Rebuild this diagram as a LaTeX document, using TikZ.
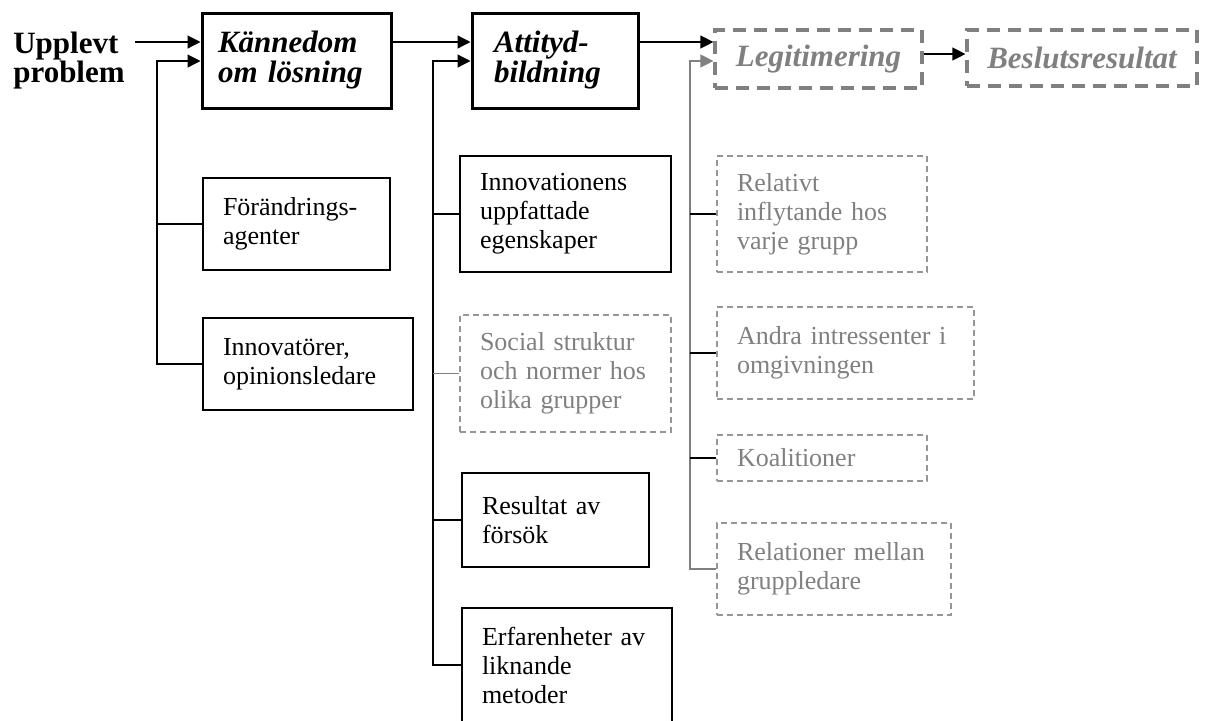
\documentclass[tikz,border=0pt]{standalone}
\usepackage{fontspec}
\setmainfont{Liberation Serif}
\definecolor{fadegray}{RGB}{128,128,128}
\definecolor{dashgray}{RGB}{150,150,150}
\usetikzlibrary{arrows.meta,positioning,calc}

\tikzset{
  stagebox/.style={draw, line width=1.5pt, align=left, inner xsep=8pt,
    font=\fontsize{15.5}{15}\selectfont\bfseries\itshape},
  laterbox/.style={draw=fadegray, text=fadegray, line width=1.6pt,
    dash pattern=on 6.5pt off 4pt, align=center,
    font=\fontsize{15.5}{15}\selectfont\bfseries\itshape},
  factor/.style={draw, line width=0.7pt, align=left, inner xsep=10pt,
    font=\fontsize{13}{14.5}\selectfont},
  weakfactor/.style={factor, draw=dashgray, text=fadegray, dash pattern=on 3pt off 2pt},
  link/.style={line width=0.6pt},
  weaklink/.style={link, draw=fadegray},
  arr/.style={link, -{Triangle[length=6.5pt,width=6.5pt]}},
  weakarr/.style={weaklink, -{Triangle[length=6.5pt,width=6.5pt]}}
}

\begin{document}
\begin{tikzpicture}[x=0.5pt,y=-0.5pt]
  \useasboundingbox (0,0) rectangle (1213,720);

  % top row
  \node[align=left, inner xsep=5pt, font=\fontsize{15.5}{14.5}\selectfont\bfseries] (prob) at (69,60.5) {Upplevt\\problem};
  \node[stagebox, text width=78.5pt, minimum height=47.5pt] (kan) at (296.5,60.5) {Kännedom\\om lösning};
  \node[stagebox, inner xsep=11pt, text width=61pt, minimum height=47.5pt] (att) at (555,60.5) {Attityd-\\bildning};
  \node[laterbox, minimum width=103.5pt, minimum height=29pt] (leg) at (818.5,59) {Legitimering};
  \node[laterbox, minimum width=115pt, minimum height=28pt] (bes) at (1082,58) {Beslutsresultat};

  % column under Kännedom
  \node[factor, text width=73.5pt, minimum height=46pt] (fa) at (296.5,224) {Förändrings-\\agenter};
  \node[factor, text width=85pt, minimum height=46pt] (ino) at (308,364) {Innovatörer,\\opinionsledare};

  % column under Attityd
  \node[factor, text width=85.5pt, minimum height=58pt] (ie) at (565.5,214) {Innovationens\\uppfattade\\egenskaper};
  \node[weakfactor, text width=85.5pt, minimum height=58.5pt] (ss) at (565.5,373.5) {Social struktur\\och normer hos\\olika grupper};
  \node[factor, text width=73.5pt, minimum height=47pt] (rf) at (555.5,520) {Resultat av\\försök};
  \node[factor, text width=85pt, minimum height=57pt] (el) at (567,665) {Erfarenheter av\\liknande\\metoder};

  % column under Legitimering
  \node[weakfactor, text width=85pt, minimum height=58pt] (ri) at (822,214) {Relativt\\inflytande hos\\varje grupp};
  \node[weakfactor, text width=108.5pt, minimum height=46pt] (ai) at (845.5,353) {Andra intressenter i\\omgivningen};
  \node[weakfactor, text width=85pt, minimum height=23pt] (ko) at (822,458) {Koalitioner};
  \node[weakfactor, text width=97pt, minimum height=46pt] (rm) at (834,569) {Relationer mellan\\gruppledare};

  % bus lines
  \coordinate (busA) at (157,61);
  \coordinate (busB) at (433,61);
  \coordinate (busC) at (690,61);

  % main flow
  \draw[arr] (prob.east |- 0,42) -- ([yshift=9.25pt]kan.west);
  \draw[arr] ([yshift=9.25pt]kan.east) -- ([yshift=9.25pt]att.west);
  \draw[arr] ([yshift=9.25pt]att.east) -- ([yshift=9.25pt]att.east -| leg.west);
  \draw[arr] ([yshift=2.5pt]leg.east) -- ([yshift=2.5pt]leg.east -| bes.west);

  % feeders
  \draw[arr] (ino.west) -| (busA) -- (busA -| kan.west);
  \draw[link] (fa.west) -- (fa.west -| busA);

  \draw[arr] (el.west) -| (busB) -- (busB -| att.west);
  \foreach \n in {ie,rf}
    \draw[link] (\n.west) -- (\n.west -| busB);
  \draw[weaklink] (ss.west) -- (ss.west -| busB);

  \draw[weakarr] (rm.west) -| (busC) -- (busC -| leg.west);
  \foreach \n in {ri,ai,ko}
    \draw[link] (\n.west) -- (\n.west -| busC);
\end{tikzpicture}
\end{document}
